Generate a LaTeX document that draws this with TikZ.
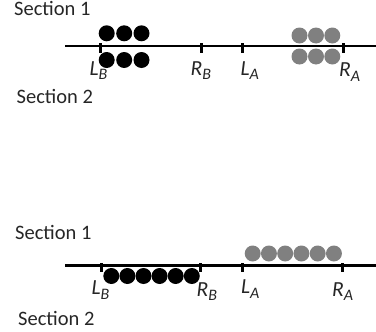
\documentclass[tikz,border=0pt]{standalone}
\usepackage{fontspec}
\setmainfont{Carlito}
\definecolor{dotgrey}{HTML}{808080}
\definecolor{txt}{HTML}{262626}
\newcommand{\mylab}[2]{{\itshape #1\raisebox{-5pt}{\fontsize{16}{16}\selectfont #2}}}
\tikzset{
  axis/.style={line width=2.4pt, black},
  tick/.style={line width=2.6pt, black},
  bdot/.style={fill=black},
  gdot/.style={fill=dotgrey},
  sect/.style={anchor=base west, inner sep=0pt, font=\fontsize{20.5}{21}\selectfont, text=txt},
  lbl/.style={anchor=base west, inner sep=0pt, font=\fontsize{21.5}{22}\selectfont, text=txt}
}
\begin{document}
\begin{tikzpicture}[x=1pt,y=-1pt]
\useasboundingbox (0,0) rectangle (376,332);
% ---------- top diagram ----------
\node[sect] (s1a) at (14,16) {Section 1};
\node[sect] (s2a) at (16.5,103.3) {Section 2};
\draw[axis] (65,46) -- (376,46);
\foreach \x in {100.7,201.7,242.3,343.3} \draw[tick] (\x,43) -- (\x,53);
\foreach \x in {106.7,124.2,141.5} {
  \fill[bdot] (\x,33.3) circle (8);
  \fill[bdot] (\x,60) circle (8);
}
\foreach \x in {299.5,316,332.3} {
  \fill[gdot] (\x,35.5) circle (8);
  \fill[gdot] (\x,56.5) circle (8);
}
\node[lbl] (lb1) at (89.5,75) {\mylab{L}{B}};
\node[lbl] (rb1) at (190.5,75) {\mylab{R}{B}};
\node[lbl] (la1) at (240.5,75) {\mylab{L}{A}};
\node[lbl] (ra1) at (339,77) {\mylab{R}{A}};
% ---------- bottom diagram ----------
\node[sect] (s1b) at (15,240) {Section 1};
\node[sect] (s2b) at (18,325) {Section 2};
\draw[axis] (65,265.5) -- (376,265.5);
\foreach \x in {101.7,200.7,242.3,342.3} \draw[tick] (\x,263) -- (\x,272);
\foreach \i in {0,...,5} {
  \fill[bdot] ({111.3+16.1*\i},276) circle (8);
  \fill[gdot] ({252.7+16.25*\i},253.5) circle (8);
}
\node[lbl] (lb2) at (91.5,294.3) {\mylab{L}{B}};
\node[lbl] (rb2) at (196.5,296) {\mylab{R}{B}};
\node[lbl] (la2) at (241,293.5) {\mylab{L}{A}};
\node[lbl] (ra2) at (332,296) {\mylab{R}{A}};
\end{tikzpicture}
\end{document}
